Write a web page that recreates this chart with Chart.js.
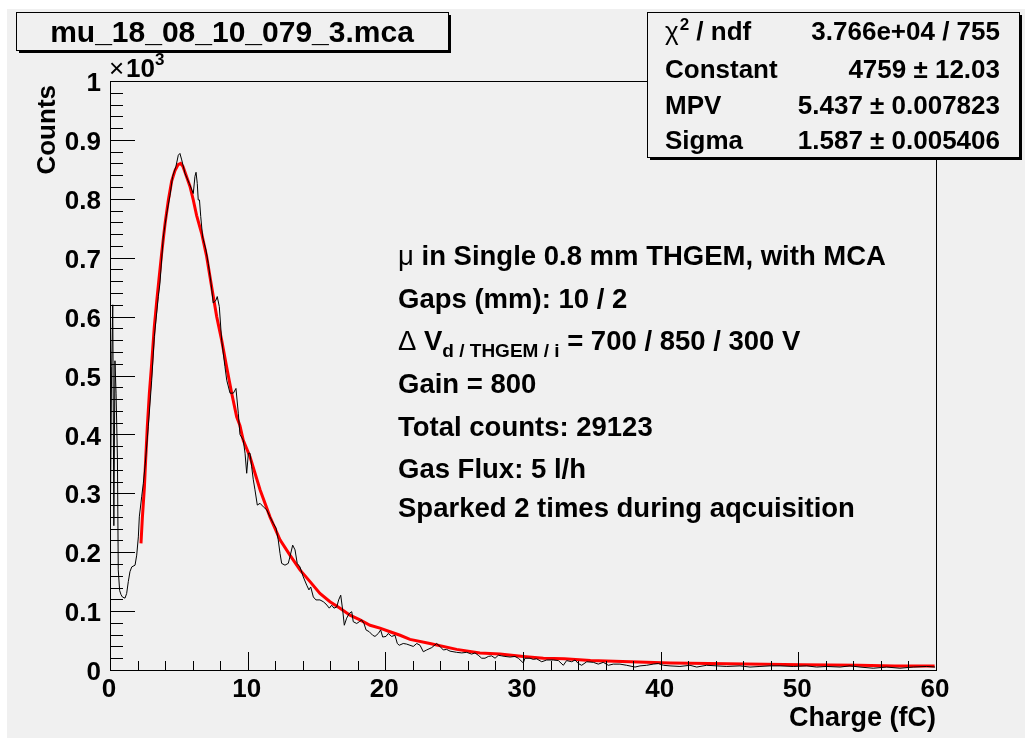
<!DOCTYPE html>
<html>
<head>
<meta charset="utf-8">
<script src="https://cdn.jsdelivr.net/npm/chart.js@4.4.0/dist/chart.umd.min.js"></script>
<style>
  html, body { margin: 0; padding: 0; background: #ffffff; }
  canvas { display: block; }
</style>
</head>
<body>
<canvas id="landauChart" width="1025" height="738"></canvas>
<script>
// MCA spectrum (charge in fC, counts per bin)
const histCharge = [0.04, 0.12, 0.2, 0.28, 0.36, 0.44, 0.54, 0.6, 0.7, 0.8, 0.9, 1.09, 1.21, 1.33, 1.45, 1.58, 1.82, 1.94, 2.06, 2.13,
  2.30, 2.42, 2.56, 2.78, 3.03, 3.22, 3.39, 3.51, 3.63, 3.87, 4.12, 4.36, 4.55, 4.79, 4.96, 5.08, 5.21, 5.45, 5.76, 6.05,
  6.17, 6.25, 6.34, 6.41, 6.50, 6.59, 6.73, 6.97, 7.14, 7.31, 7.50, 7.70, 7.79, 7.94, 8.11, 8.35, 8.48, 8.72, 8.96, 9.15,
  9.32, 9.44, 9.68, 9.81, 9.93, 10.05, 10.17, 10.29, 10.41, 10.53, 10.70, 10.90, 11.14, 11.38, 11.62, 11.86, 12.06, 12.22, 12.35, 12.47,
  12.71, 12.95, 13.07, 13.27, 13.44, 13.60, 13.80, 14.04, 14.29, 14.45, 14.58, 14.77, 14.96, 15.25, 15.49, 15.69, 15.93, 16.10, 16.27, 16.47,
  16.61, 16.76, 16.90, 17.02, 17.19, 17.38, 17.56, 17.67, 17.92, 18.11, 18.28, 18.45, 18.60, 18.83, 19.08, 19.25, 19.49, 19.66, 19.81, 20.05,
  20.21, 20.46, 20.70, 20.87, 21.01, 21.30, 21.55, 21.79, 22.03, 22.28, 22.52, 22.76, 23.00, 23.37, 23.73, 23.97, 24.21, 24.45, 24.70, 25.18,
  25.55, 25.91, 26.27, 26.51, 26.75, 27.00, 27.24, 27.48, 27.72, 27.97, 28.21, 28.45, 28.69, 29.06, 29.42, 29.66, 30.02, 30.14, 30.51, 30.75,
  30.99, 31.36, 31.72, 32.20, 32.57, 32.93, 33.17, 33.54, 33.78, 34.02, 34.26, 34.63, 35.11, 35.47, 35.83, 36.20, 36.56, 37.04, 37.53, 38.14,
  38.50, 38.98, 39.46, 39.83, 40.20, 40.68, 41.40, 42.13, 42.62, 43.34, 44.07, 44.80, 45.76, 46.49, 47.21, 47.94, 48.67, 49.63, 50.61, 51.33,
  52.06, 53.03, 53.75, 54.48, 55.44, 56.42, 57.38, 58.35, 59.32, 59.93];
const histCounts = [300, 515, 620, 245, 525, 470, 360, 170, 135, 128, 124, 122, 130, 150, 167, 175, 178, 195, 226, 260,
  294, 317, 350, 413, 492, 566, 606, 634, 657, 735, 775, 806, 838, 855, 874, 877, 866, 843, 826, 809,
  838, 845, 826, 798, 798, 770, 735, 713, 690, 662, 623, 628, 634, 617, 560, 515, 492, 470, 470, 478,
  436, 400, 390, 368, 334, 368, 368, 345, 323, 306, 280, 283, 277, 272, 260, 249, 241, 221, 198, 181,
  178, 181, 192, 212, 204, 181, 175, 158, 144, 136, 141, 124, 119, 119, 116, 112, 105, 110, 105, 107,
  119, 127, 102, 76, 88, 96, 99, 82, 79, 82, 85, 79, 68, 65, 59, 57, 62, 68, 56, 57,
  62, 57, 59, 45, 42, 45, 44, 42, 40, 45, 42, 31, 34, 38, 45, 40, 34, 35, 32, 30,
  29, 30, 27, 29, 25, 20, 20, 23, 24, 20, 25, 24, 23, 22, 23, 20, 12, 20, 20, 18,
  19, 14, 17, 17, 16, 8, 16, 14, 17, 11, 8, 14, 13, 10, 13, 8, 10, 10, 8, 5,
  7, 8, 10, 11, 8, 7, 6, 8, 5, 8, 7, 6, 7, 5, 6, 7, 7, 6, 7, 5,
  6, 5, 7, 5, 3, 5, 3, 5, 6, 5];

// Landau fit curve
const fitCharge = [2.25, 2.35, 2.50, 2.59, 2.71, 2.86, 3.03, 3.22, 3.39, 3.55, 3.75, 4.00, 4.24, 4.48, 4.72, 4.95, 5.13, 5.30, 5.45, 5.81,
  6.05, 6.29, 6.66, 7.02, 7.38, 7.75, 8.11, 8.47, 8.84, 9.20, 9.44, 9.68, 10.17, 10.90, 11.62, 12.35, 13.07, 13.80, 14.53, 15.25,
  15.98, 16.71, 17.43, 18.16, 18.89, 19.61, 20.34, 21.07, 21.79, 23.24, 25.18, 26.87, 28.33, 30.02, 31.48, 33.0, 34.9, 37.8, 40.7, 43.5,
  46.2, 50.3, 54.4, 57.0, 59.9];
const fitCounts = [215, 258, 311, 357, 413, 470, 521, 583, 625, 662, 707, 758, 798, 830, 848, 858, 860, 855, 845, 821,
  798, 772, 741, 702, 651, 600, 560, 515, 470, 430, 415, 390, 362, 306, 260, 221, 195, 170, 150, 130,
  116, 105, 93, 85, 76, 71, 65, 59, 52, 45, 35, 29, 27, 23, 20, 19, 16, 14, 12, 11,
  10, 9, 8, 7, 7];

const xTickValues = [0, 10, 20, 30, 40, 50, 60];
const yTickValues = [0, 100, 200, 300, 400, 500, 600, 700, 800, 900, 1000];
const yTickLabels = ['0', '0.1', '0.2', '0.3', '0.4', '0.5', '0.6', '0.7', '0.8', '0.9', '1'];

const histTitle = 'mu_18_08_10_079_3.mca';
// stats rows as runs too, so chi2 gets a real superscript
const statsLabels = [
  [['\u03C7', 'g'], ['2', 'p'], [' / ndf', 'b']],
  [['Constant', 'b']],
  [['MPV', 'b']],
  [['Sigma', 'b']]
];
const statsValues = ['3.766e+04 / 755', '4759 \u00B1 12.03', '5.437 \u00B1 0.007823', '1.587 \u00B1 0.005406'];

// each line is a list of [text, kind]; kind: b = bold, g = greek, s = subscript, p = superscript
const infoLines = [
  [['\u03BC', 'g'], [' in Single 0.8 mm THGEM, with MCA', 'b']],
  [['Gaps (mm): 10 / 2', 'b']],
  [['\u0394', 'g'], [' V', 'b'], ['d / THGEM / i', 's'], [' = 700 / 850 / 300 V', 'b']],
  [['Gain = 800', 'b']],
  [['Total counts: 29123', 'b']],
  [['Gas Flux: 5 l/h', 'b']],
  [['Sparked 2 times during aqcuisition', 'b']]
];

const FONT = '"Liberation Sans", Arial, Helvetica, sans-serif';
const PAD_GREY = '#f0f0f0';

function bold(size) { return 'bold ' + size + 'px ' + FONT; }

function drawBox(ctx, x, y, w, h) {
  ctx.fillStyle = '#000';
  ctx.fillRect(x + 3, y + 3, w, h);
  ctx.fillStyle = PAD_GREY;
  ctx.fillRect(x, y, w, h);
  ctx.strokeStyle = '#000';
  ctx.lineWidth = 1;
  ctx.strokeRect(x + 0.5, y + 0.5, w, h);
}

function drawRuns(ctx, runs, x, y, size) {
  for (const [text, kind] of runs) {
    if (kind === 's') {
      ctx.font = bold(Math.round(size * 0.7));
      ctx.fillText(text, x, y + 7);
    } else if (kind === 'p') {
      ctx.font = bold(Math.round(size * 0.65));
      ctx.fillText(text, x + 1, y - 10);
    } else if (kind === 'g') {
      ctx.font = size + 'px ' + FONT;
      ctx.fillText(text, x, y);
    } else {
      ctx.font = bold(size);
      ctx.fillText(text, x, y);
    }
    x += ctx.measureText(text).width + (kind === 'p' ? 1 : 0);
  }
}

// frame, ROOT style inner ticks, labels and the text boxes
const rootPad = {
  id: 'rootPad',
  beforeDraw(chart) {
    const ctx = chart.ctx;
    ctx.save();
    ctx.fillStyle = '#ffffff';
    ctx.fillRect(0, 0, chart.width, chart.height);
    ctx.fillStyle = PAD_GREY;
    ctx.fillRect(7, 9, chart.width - 7, chart.height - 9);
    ctx.restore();
  },
  afterDraw(chart) {
    const ctx = chart.ctx;
    const area = chart.chartArea;
    const xs = chart.scales.x;
    const ys = chart.scales.y;
    ctx.save();
    ctx.strokeStyle = '#000';
    ctx.lineWidth = 1;

    // frame
    ctx.strokeRect(Math.round(area.left) + 0.5, Math.round(area.top) + 0.5,
      Math.round(area.right - area.left), Math.round(area.bottom - area.top));

    // y ticks: major every 100, minor every 20
    ctx.beginPath();
    for (let v = 0; v <= 1000; v += 20) {
      const py = Math.round(ys.getPixelForValue(v)) + 0.5;
      const len = v % 100 === 0 ? 25 : 13;
      ctx.moveTo(area.left, py);
      ctx.lineTo(area.left + len, py);
    }
    // x ticks: major every 10, minor every 2
    for (let v = 0; v <= 60; v += 2) {
      const px = Math.round(xs.getPixelForValue(v)) + 0.5;
      const len = v % 10 === 0 ? 18 : 9;
      ctx.moveTo(px, area.bottom);
      ctx.lineTo(px, area.bottom - len);
    }
    ctx.stroke();

    ctx.fillStyle = '#000';
    ctx.font = bold(26);

    // y tick labels
    ctx.textAlign = 'right';
    ctx.textBaseline = 'middle';
    yTickValues.forEach((v, i) => {
      ctx.fillText(yTickLabels[i], area.left - 9, ys.getPixelForValue(v) + 3);
    });
    // x tick labels
    ctx.textAlign = 'center';
    ctx.textBaseline = 'top';
    xTickValues.forEach(v => {
      ctx.fillText(String(v), xs.getPixelForValue(v) - 1, area.bottom + 7);
    });

    // exponent above the y axis
    ctx.textAlign = 'left';
    ctx.textBaseline = 'alphabetic';
    ctx.font = '26px ' + FONT;
    ctx.fillText('\u00D7', area.left - 1, area.top - 4);
    ctx.font = bold(26);
    ctx.fillText('10', area.left + 16, area.top - 4);
    ctx.font = bold(17);
    ctx.fillText('3', area.left + 45, area.top - 16);

    // axis titles
    ctx.font = bold(27);
    ctx.textAlign = 'right';
    ctx.fillText('Charge (fC)', area.right, 726);
    ctx.save();
    ctx.translate(55, area.top + 4);
    ctx.rotate(-Math.PI / 2);
    ctx.font = bold(26);
    ctx.fillText('Counts', 0, 0);
    ctx.restore();

    // fit annotation
    ctx.textAlign = 'left';
    const lineY = [265, 308, 350, 393, 436, 478, 517];
    infoLines.forEach((runs, i) => drawRuns(ctx, runs, 398, lineY[i], 27.5));

    // histogram title
    drawBox(ctx, 16, 12, 432, 38);
    ctx.fillStyle = '#000';
    ctx.font = bold(30);
    ctx.textAlign = 'center';
    ctx.fillText(histTitle, 232, 42);

    // fit statistics
    drawBox(ctx, 647, 12, 372, 145);
    ctx.fillStyle = '#000';
    const rowY = [40, 78, 114, 149];
    statsLabels.forEach((runs, i) => {
      ctx.textAlign = 'left';
      drawRuns(ctx, runs, 665, rowY[i], 26);
      ctx.font = bold(26);
      ctx.textAlign = 'right';
      ctx.fillText(statsValues[i], 1000, rowY[i]);
    });
    ctx.restore();
  }
};

const toPoints = (xs, ys) => xs.map((x, i) => ({ x: x, y: ys[i] }));

new Chart(document.getElementById('landauChart'), {
  type: 'line',
  data: {
    datasets: [
      {
        label: 'histogram',
        data: toPoints(histCharge, histCounts),
        borderColor: '#000000',
        borderWidth: 1,
        pointRadius: 0,
        tension: 0
      },
      {
        label: 'landau',
        data: toPoints(fitCharge, fitCounts),
        borderColor: '#ff0000',
        borderWidth: 3,
        pointRadius: 0,
        tension: 0
      }
    ]
  },
  options: {
    responsive: false,
    animation: false,
    layout: { padding: { left: 110, top: 81, right: 89, bottom: 68 } },
    scales: {
      x: { type: 'linear', min: 0, max: 60, display: false },
      y: { type: 'linear', min: 0, max: 1000, display: false }
    },
    plugins: {
      legend: { display: false },
      tooltip: { enabled: false }
    }
  },
  plugins: [rootPad]
});
</script>
</body>
</html>
